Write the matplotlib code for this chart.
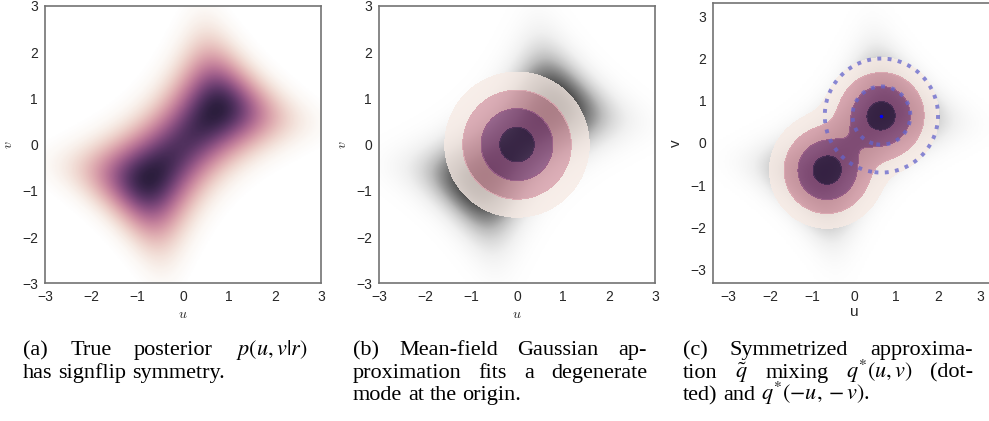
import numpy as np
import matplotlib
matplotlib.use("Agg")
import matplotlib.pyplot as plt
import seaborn as sns

# ---------------- data / parameters ----------------
ticks = [-3, -2, -1, 0, 1, 2, 3]
tick_labels = ["\u22123", "\u22122", "\u22121", "0", "1", "2", "3"]

# true posterior p(u,v|r): prior N(0, prior_sd^2) on u and v, r ~ N(u*v, noise_sd^2)
r_obs = 1.5
noise_sd = 1.0
prior_sd = 1.0

# mean-field Gaussian (panel b)
mf_mean = [0.0, 0.0]
mf_sd = 0.6
mf_level_radii = [1.57, 1.18, 0.78, 0.375]

# symmetrized approximation (panel c)
sym_mode = [0.65, 0.65]
sym_sd = 0.55
sym_level_radii = [1.37, 1.02, 0.69, 0.33]
dotted_radii = [1.35, 0.69]

captions = {
    "a": [(["(a)", "True", "posterior", r"$p(u,v|r)$"], True),
          (["has", "signflip", "symmetry."], False)],
    "b": [(["(b)", "Mean-field", "Gaussian", "ap-"], True),
          (["proximation", "fits", "a", "degenerate"], True),
          (["mode", "at", "the", "origin."], False)],
    "c": [(["(c)", "Symmetrized", "approxima-"], True),
          (["tion", r"$\tilde{q}$", "mixing", r"$q^{*}(u,v)$", "(dot-"], True),
          (["ted)", "and", r"$q^{*}(-u,-v)$."], False)],
}

# ---------------- helpers ----------------
def posterior(U, V):
    lp = -(U**2 + V**2) / (2 * prior_sd**2) - (r_obs - U * V)**2 / (2 * noise_sd**2)
    p = np.exp(lp)
    return p / p.max()

def gauss(U, V, m, s):
    return np.exp(-((U - m[0])**2 + (V - m[1])**2) / (2 * s**2)) / (2 * np.pi * s**2)

def mixture(U, V):
    m2 = [-sym_mode[0], -sym_mode[1]]
    return 0.5 * gauss(U, V, sym_mode, sym_sd) + 0.5 * gauss(U, V, m2, sym_sd)

cmap = sns.cubehelix_palette(light=1, as_cmap=True)
band_colors = [cmap(x) for x in (0.08, 0.36, 0.68, 0.94)]

W, H = 989, 421
fig = plt.figure(figsize=(W / 100, H / 100), dpi=100)

def px_axes(l, r, t, b):
    return fig.add_axes([l / W, 1 - b / H, (r - l) / W, (b - t) / H])

spine_col = "0.45"
text_col = "0.15"

def style(ax, mathlabels=True):
    for s in ax.spines.values():
        s.set_color(spine_col)
        s.set_linewidth(1.2)
    ax.set_xticks(ticks)
    ax.set_yticks(ticks)
    ax.set_xticklabels(tick_labels)
    ax.set_yticklabels(tick_labels)
    ax.tick_params(length=0, pad=5.0, labelsize=10, labelcolor=text_col)
    for lab in ax.get_xticklabels() + ax.get_yticklabels():
        lab.set_fontfamily("Liberation Sans")
    if mathlabels:
        ax.set_xlabel("$u$", fontsize=10, color=text_col, math_fontfamily="cm", labelpad=2)
        ax.set_ylabel("$v$", fontsize=10, color=text_col, math_fontfamily="cm", labelpad=5)
    else:
        ax.set_xlabel("u", fontsize=11, color=text_col, family="Liberation Sans", labelpad=1)
        ax.set_ylabel("v", fontsize=11, color=text_col, family="Liberation Sans", labelpad=5)

# ---------------- panel (a) ----------------
g = np.linspace(-3, 3, 400)
U, V = np.meshgrid(g, g)
P = posterior(U, V)

axa = px_axes(45, 321, 6, 283.3)
axa.imshow(P, extent=[-3, 3, -3, 3], origin="lower", cmap=cmap, vmin=0, vmax=1,
           interpolation="bilinear", aspect="auto")
axa.set_xlim(-3, 3)
axa.set_ylim(-3, 3)
style(axa)

# ---------------- panel (b) ----------------
axb = px_axes(379, 655, 6, 283.3)
axb.imshow(P, extent=[-3, 3, -3, 3], origin="lower", cmap="Greys", vmin=0, vmax=1,
           interpolation="bilinear", aspect="auto")
G = gauss(U, V, mf_mean, mf_sd)
lev_b = [gauss(mf_mean[0] + rr, mf_mean[1], mf_mean, mf_sd) for rr in mf_level_radii]
lev_b = lev_b + [G.max() * 1.01]
axb.contourf(U, V, G, levels=lev_b, colors=band_colors, alpha=0.8)
axb.set_xlim(-3, 3)
axb.set_ylim(-3, 3)
style(axb)

# ---------------- panel (c) ----------------
xl = (-3.36, 3.36)
yl = (-3.31, 3.31)
axc = px_axes(713.3, 995, 3.3, 282.7)
gx = np.linspace(xl[0], xl[1], 160)
gy = np.linspace(yl[0], yl[1], 160)
Uc, Vc = np.meshgrid(gx, gy)
Pc = posterior(Uc, Vc)
axc.imshow(Pc, extent=[xl[0], xl[1], yl[0], yl[1]], origin="lower", cmap="Greys",
           vmin=0, vmax=1.0, interpolation="bilinear", aspect="auto")
M = mixture(Uc, Vc)
d = 1 / np.sqrt(2)
lev_c = [float(mixture(np.array(sym_mode[0] + rr * d), np.array(sym_mode[1] + rr * d)))
         for rr in sym_level_radii]
lev_c = lev_c + [M.max() * 1.01]
axc.contourf(Uc, Vc, M, levels=lev_c, colors=band_colors, alpha=0.85)
Q = gauss(Uc, Vc, sym_mode, sym_sd)
lev_q = sorted(float(gauss(np.array(sym_mode[0] + rr), np.array(sym_mode[1]), sym_mode, sym_sd))
               for rr in dotted_radii)
axc.contour(Uc, Vc, Q, levels=lev_q, colors=["#6464cc"], alpha=0.75,
            linewidths=2.8, linestyles=":")
axc.plot([sym_mode[0]], [sym_mode[1]], "o", color="blue", ms=2.5, mew=0)
axc.set_xlim(*xl)
axc.set_ylim(*yl)
style(axc, mathlabels=False)

# ---------------- captions (justified, like the paper) ----------------
cap_font = dict(family="Liberation Serif", fontsize=16.0, color="black", math_fontfamily="stix")
cols = {"a": (23, 307), "b": (353, 647), "c": (683, 973)}
baselines = [355.0, 377.8, 400.0]

fig.canvas.draw()
renderer = fig.canvas.get_renderer()
space_t = fig.text(0, 0, "a a", **cap_font)
aa_t = fig.text(0, 0, "aa", **cap_font)
space_w = space_t.get_window_extent(renderer).width - aa_t.get_window_extent(renderer).width
space_t.remove()
aa_t.remove()

for key, lines in captions.items():
    left, right = cols[key]
    for (words, justify), yb in zip(lines, baselines):
        objs = [fig.text(0, 1 - yb / H, w, ha="left", va="baseline", **cap_font) for w in words]
        widths = [o.get_window_extent(renderer).width for o in objs]
        if justify and len(words) > 1:
            gap = (right - left - sum(widths)) / (len(words) - 1)
            gap = max(gap, 0.55 * space_w)
        else:
            gap = space_w
        x = left
        for o, w in zip(objs, widths):
            o.set_x(x / W)
            x += w + gap

fig.savefig("out.png", dpi=100)
